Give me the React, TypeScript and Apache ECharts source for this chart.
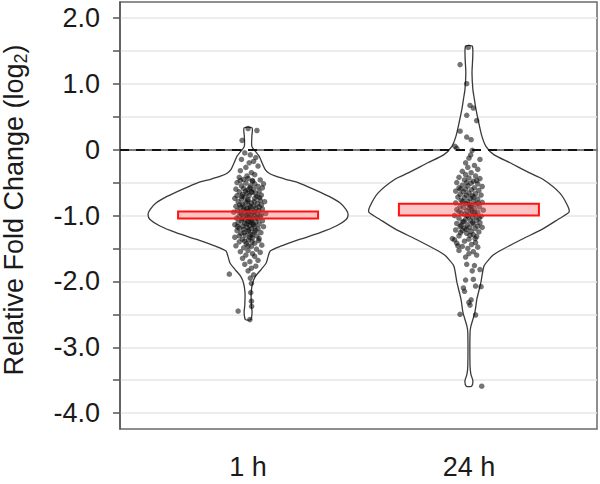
import React, { useEffect, useRef } from 'react';
import * as echarts from 'echarts';

const categories = ['1 h', '24 h'];
const categoryPos = [1, 2];
const yTickValues = [-4, -3.5, -3, -2.5, -2, -1.5, -1, -0.5, 0, 0.5, 1, 1.5, 2];
const yLabelValues = [-4, -3, -2, -1, 0, 1, 2];
const referenceLine = 0;

// violin outline: [value, half width in x-axis units]
const violin1h: [number, number][] = [
  [0.33, 0.018], [0.2, 0.017], [0.05, 0.017], [-0.03, 0.034], [-0.1, 0.05], [-0.2, 0.063],
  [-0.3, 0.077], [-0.36, 0.095], [-0.4, 0.122], [-0.45, 0.17], [-0.5, 0.226], [-0.61, 0.303],
  [-0.71, 0.367], [-0.81, 0.417], [-0.91, 0.444], [-0.985, 0.453], [-1.06, 0.444], [-1.16, 0.399],
  [-1.26, 0.326], [-1.36, 0.236], [-1.47, 0.145], [-1.54, 0.1], [-1.62, 0.091], [-1.72, 0.082],
  [-1.82, 0.059], [-1.92, 0.034], [-2.02, 0.021], [-2.17, 0.014], [-2.37, 0.015], [-2.47, 0.018],
  [-2.58, 0.012],
];
const violin24h: [number, number][] = [
  [1.565, 0.016], [1.16, 0.014], [0.91, 0.018], [0.76, 0.025], [0.61, 0.032], [0.4, 0.045],
  [0.2, 0.059], [0.05, 0.077], [-0.076, 0.113], [-0.2, 0.186], [-0.35, 0.272], [-0.45, 0.335],
  [-0.66, 0.412], [-0.86, 0.448], [-0.95, 0.453], [-1.06, 0.403], [-1.21, 0.331], [-1.36, 0.24],
  [-1.52, 0.149], [-1.6, 0.11], [-1.67, 0.09], [-1.77, 0.068], [-2.02, 0.054], [-2.27, 0.036],
  [-2.47, 0.027], [-2.68, 0.009], [-2.78, 0.005], [-3.28, 0.005], [-3.41, 0.009], [-3.51, 0.018],
  [-3.59, 0.012],
];

// jittered observations: [x offset from category, value]
const points1h: [number, number][] = [
  [0.0, 0.32], [0.04, 0.29], [-0.027, 0.14],
  [-0.015, -0.05], [0.01, -0.08], [0.035, -0.12], [-0.03, -0.15], [0.005, -0.2], [0.025, -0.18],
  [-0.01, -0.27], [0.045, -0.25], [-0.035, -0.32], [0.015, -0.35], [-0.005, -0.4], [0.03, -0.38],
  [-0.04, -0.42], [-0.02, -0.45], [0.0, -0.44], [0.02, -0.47], [0.055, -0.46], [-0.05, -0.5],
  [-0.01, -0.51], [0.03, -0.52], [0.01, -0.55], [-0.03, -0.55], [0.045, -0.56], [0.065, -0.58],
  [-0.055, -0.6], [-0.02, -0.59], [0.0, -0.61], [0.025, -0.6], [0.05, -0.63], [-0.04, -0.64],
  [0.015, -0.64], [-0.005, -0.66], [0.035, -0.67], [-0.025, -0.68], [0.06, -0.69], [-0.05, -0.7],
  [0.005, -0.7], [0.04, -0.71], [-0.015, -0.72], [0.02, -0.48], [-0.035, -0.47], [0.07, -0.52],
  [0.008, -0.58], [-0.012, -0.63],
  [-0.06, -0.74], [-0.03, -0.75], [0.0, -0.76], [0.03, -0.74], [0.055, -0.77], [0.075, -0.79],
  [-0.045, -0.79], [-0.01, -0.8], [0.015, -0.81], [0.042, -0.82], [-0.025, -0.83], [0.005, -0.85],
  [0.06, -0.84], [-0.055, -0.86], [0.025, -0.86], [-0.035, -0.88], [-0.005, -0.89], [0.035, -0.89],
  [0.065, -0.9], [-0.02, -0.91], [0.01, -0.92], [0.048, -0.93], [-0.048, -0.93], [-0.065, -0.95],
  [-0.015, -0.95], [0.02, -0.96], [0.0, -0.97], [0.04, -0.97], [0.08, -0.97], [-0.03, -0.98],
  [0.012, -0.99], [-0.008, -1.0], [0.03, -1.0], [0.055, -1.01], [-0.04, -1.01], [-0.02, -1.02],
  [0.005, -1.03], [0.022, -1.04], [-0.052, -1.04], [0.045, -1.05], [-0.01, -1.06], [0.015, -1.07],
  [-0.03, -1.08], [0.065, -1.08], [0.0, -1.09], [0.035, -1.1], [-0.045, -1.11], [-0.015, -1.12],
  [0.02, -1.12], [0.05, -1.13], [-0.06, -1.14], [0.008, -1.15], [-0.025, -1.16], [0.03, -1.17],
  [0.07, -1.17], [-0.005, -1.18], [-0.04, -1.19], [0.015, -1.2], [0.045, -1.2], [-0.02, -1.21],
  [0.018, -0.65], [-0.028, -0.71], [0.052, -0.73], [-0.002, -0.78], [0.028, -0.79], [-0.038, -0.84],
  [0.012, -0.87], [-0.018, -0.87], [0.05, -0.87], [0.0, -0.93], [0.028, -0.94], [-0.034, -0.96],
  [0.06, -0.99], [-0.002, -1.02], [0.04, -1.03], [-0.028, -1.05], [0.01, -1.1], [-0.006, -1.13],
  [0.025, -1.14], [-0.048, -1.17], [0.003, -1.22], [0.035, -1.23], [-0.018, -1.26], [0.02, -1.29],
  [-0.04, -1.31], [0.008, -1.33], [0.05, -1.35], [-0.015, -1.39], [0.018, -1.4], [0.0, -1.46],
  [-0.05, -1.23], [0.0, -1.24], [0.028, -1.25], [0.058, -1.26], [-0.032, -1.27], [0.01, -1.29],
  [-0.012, -1.3], [0.04, -1.31], [-0.06, -1.33], [0.02, -1.34], [-0.025, -1.36], [0.002, -1.37],
  [0.048, -1.38], [-0.04, -1.4], [0.03, -1.42], [-0.008, -1.43], [0.062, -1.45], [-0.055, -1.46],
  [0.015, -1.47], [-0.02, -1.49], [0.038, -1.51], [0.0, -1.53], [-0.035, -1.55], [0.055, -1.56],
  [0.02, -1.58], [-0.01, -1.6],
  [0.03, -1.62], [-0.025, -1.65], [0.045, -1.68], [0.008, -1.7], [-0.015, -1.74], [0.035, -1.77],
  [-0.085, -1.89], [0.015, -1.8], [0.0, -1.84], [0.025, -1.9], [0.01, -1.95],
  [0.015, -2.03], [0.012, -2.17], [0.015, -2.3], [0.016, -2.38], [-0.045, -2.45], [0.008, -2.58],
];
const points24h: [number, number][] = [
  [-0.003, 1.55], [-0.04, 1.29], [-0.01, 1.0], [0.005, 0.67], [0.02, 0.63], [-0.01, 0.52],
  [0.035, 0.44], [-0.04, 0.28], [-0.01, 0.19], [0.01, 0.15], [-0.063, 0.05], [-0.055, 0.02],
  [0.015, -0.01], [0.008, -0.08], [0.0, -0.13], [0.05, -0.15], [-0.015, -0.2], [0.025, -0.24],
  [0.04, -0.3], [-0.005, -0.27],
  [-0.03, -0.33], [0.01, -0.35], [-0.015, -0.38], [0.03, -0.4], [-0.045, -0.42], [0.0, -0.43],
  [0.05, -0.44], [-0.02, -0.46], [0.02, -0.48], [-0.055, -0.5], [0.01, -0.51], [0.04, -0.52],
  [-0.03, -0.54], [-0.005, -0.55], [0.06, -0.56], [0.025, -0.58], [-0.045, -0.58], [-0.015, -0.6],
  [0.012, -0.61], [0.045, -0.62], [-0.06, -0.63], [-0.025, -0.64], [0.0, -0.66], [0.03, -0.67],
  [-0.04, -0.68], [0.055, -0.69], [0.015, -0.7], [-0.01, -0.5], [0.035, -0.47], [-0.038, -0.6],
  [-0.05, -0.72], [-0.02, -0.73], [0.005, -0.74], [0.04, -0.75], [-0.035, -0.77], [0.02, -0.78],
  [-0.005, -0.79], [0.06, -0.8], [-0.06, -0.81], [-0.015, -0.82], [0.03, -0.83], [0.01, -0.85],
  [-0.04, -0.86], [0.048, -0.87], [-0.025, -0.88], [0.0, -0.89], [0.025, -0.9], [-0.055, -0.91],
  [0.065, -0.92], [-0.01, -0.93], [0.015, -0.94], [0.04, -0.95], [-0.035, -0.96], [0.005, -0.97],
  [-0.02, -0.98], [0.03, -0.99], [-0.065, -1.0], [0.055, -1.01], [-0.002, -1.02], [0.018, -1.03],
  [-0.045, -1.04], [-0.015, -1.06], [0.035, -1.07], [0.008, -1.08], [-0.03, -1.1], [0.05, -1.11],
  [-0.055, -1.12], [0.022, -1.13], [-0.008, -1.14], [0.04, -1.16], [-0.04, -1.17], [0.003, -1.18],
  [-0.02, -1.19], [0.028, -1.2],
  [-0.012, -0.69], [0.022, -0.72], [-0.028, -0.79], [0.042, -0.81], [0.0, -0.83], [-0.045, -0.94],
  [0.012, -0.91], [0.026, -0.96], [-0.008, -1.0], [0.046, -1.04], [-0.024, -1.09], [0.016, -1.11],
  [-0.035, -1.15], [0.06, -1.18], [-0.012, -1.21], [0.005, -1.3], [-0.038, -1.26], [0.028, -1.35],
  [-0.05, -1.46], [0.008, -0.86],
  [-0.06, -1.22], [-0.03, -1.23], [0.01, -1.24], [0.045, -1.25], [-0.01, -1.27], [0.02, -1.29],
  [-0.045, -1.31], [0.035, -1.32], [-0.075, -1.35], [-0.065, -1.37], [0.0, -1.36], [-0.02, -1.39],
  [0.03, -1.41], [-0.055, -1.42], [0.012, -1.44], [-0.03, -1.47], [0.04, -1.48], [-0.005, -1.5],
  [-0.045, -1.53], [0.02, -1.55], [0.0, -1.58], [0.035, -1.6], [-0.015, -1.63], [-0.01, -1.74],
  [0.025, -1.76],
  [0.05, -1.82], [0.015, -1.84], [-0.015, -1.98], [0.02, -1.97], [-0.025, -2.1], [-0.02, -2.15],
  [0.03, -2.07], [0.055, -2.08], [0.01, -2.28], [0.005, -2.36], [0.0, -2.32], [-0.04, -2.5],
  [0.03, -2.51], [0.058, -3.59],
];

// summary boxes (low, high) per category
const boxLow = [-1.045, -1.0];
const boxHigh = [-0.94, -0.82];

const FONT = '"Liberation Sans", Arial, Helvetica, sans-serif';
const BOX_HALF = 0.317;

function violinSeries(center: number, profile: [number, number][]) {
  return {
    type: 'custom',
    coordinateSystem: 'cartesian2d',
    z: 2,
    silent: true,
    data: [[center, profile[0][0]]],
    encode: { x: 0, y: 1 },
    renderItem: (_params: any, api: any) => {
      const c = api.value(0);
      const right = profile.map(([v, w]) => api.coord([c + w, v]));
      const left = profile.slice().reverse().map(([v, w]) => api.coord([c - w, v]));
      return {
        type: 'polygon',
        shape: { points: right.concat(left), smooth: 0.25 },
        style: { fill: '#ffffff', stroke: '#3a3a3a', lineWidth: 1.3 },
      };
    },
  };
}

export default function App() {
  const ref = useRef<HTMLDivElement>(null);
  useEffect(() => {
    document.body.style.margin = '0';
    if (!ref.current) return;
    const chart = echarts.init(ref.current, undefined, { renderer: 'svg' });
    const boxData = categoryPos.map((c, i) => [c, boxLow[i], boxHigh[i]]);
    chart.setOption({
      animation: false,
      backgroundColor: '#ffffff',
      grid: {
        left: 120, right: 3, top: 2, bottom: 55,
        show: true, borderColor: '#6a6a6a', borderWidth: 1.5, backgroundColor: 'transparent',
      },
      xAxis: {
        type: 'value', min: 0.42, max: 2.58,
        axisLine: { show: true, lineStyle: { color: '#555', width: 1.5 } },
        axisTick: { show: true, customValues: categoryPos, length: 7, lineStyle: { color: '#555', width: 1.5 } },
        axisLabel: {
          customValues: categoryPos, margin: 24, fontSize: 27, color: '#1a1a1a', fontFamily: FONT,
          formatter: (v: number) => categories[categoryPos.indexOf(v)] ?? '',
        },
        splitLine: { show: false },
      },
      yAxis: {
        type: 'value', min: -4.24, max: 2.24,
        axisLine: { show: true, lineStyle: { color: '#555', width: 1.5 } },
        axisTick: { show: true, customValues: yTickValues, length: 7, lineStyle: { color: '#555', width: 1.5 } },
        axisLabel: {
          customValues: yLabelValues, margin: 20, fontSize: 27, color: '#1a1a1a', fontFamily: FONT,
          formatter: (v: number) => (v === 0 ? '0' : v.toFixed(1)),
        },
        splitLine: { show: true, lineStyle: { color: '#e6e6e6', width: 1.5 } },
      },
      graphic: [
        {
          type: 'text', x: 14, y: 210, rotation: Math.PI / 2,
          style: {
            text: '{n|Relative Fold Change (log}{s|2}{n|)}',
            rich: {
              n: { fontSize: 27, fontFamily: FONT, fill: '#1a1a1a' },
              s: { fontSize: 18, fontFamily: FONT, fill: '#1a1a1a', padding: [14, 0, 0, 0] },
            },
            textAlign: 'center', textVerticalAlign: 'middle',
          },
        },
      ],
      series: [
        violinSeries(categoryPos[0], violin1h),
        violinSeries(categoryPos[1], violin24h),
        {
          type: 'scatter', z: 3, silent: true,
          symbolSize: 5.5,
          itemStyle: { color: 'rgba(8,8,8,0.7)' },
          data: [
            ...points1h.map(([dx, v]) => [categoryPos[0] + dx, v]),
            ...points24h.map(([dx, v]) => [categoryPos[1] + dx, v]),
          ],
          markLine: {
            silent: true, symbol: ['none', 'none'], label: { show: false },
            lineStyle: { color: '#111', type: [9, 7], width: 2 },
            data: [{ yAxis: referenceLine }],
          },
        },
        {
          type: 'custom', z: 4, silent: true,
          coordinateSystem: 'cartesian2d',
          data: boxData,
          encode: { x: 0, y: [1, 2] },
          renderItem: (_params: any, api: any) => {
            const c = api.value(0);
            const lo = api.value(1);
            const hi = api.value(2);
            const p1 = api.coord([c - BOX_HALF, hi]);
            const p2 = api.coord([c + BOX_HALF, lo]);
            return {
              type: 'rect',
              shape: { x: p1[0], y: p1[1], width: p2[0] - p1[0], height: p2[1] - p1[1] },
              style: { fill: 'rgba(255,90,90,0.35)', stroke: '#ff1414', lineWidth: 2 },
            };
          },
        },
      ],
    });
    return () => chart.dispose();
  }, []);
  return <div ref={ref} style={{ width: 600, height: 484 }} />;
}
